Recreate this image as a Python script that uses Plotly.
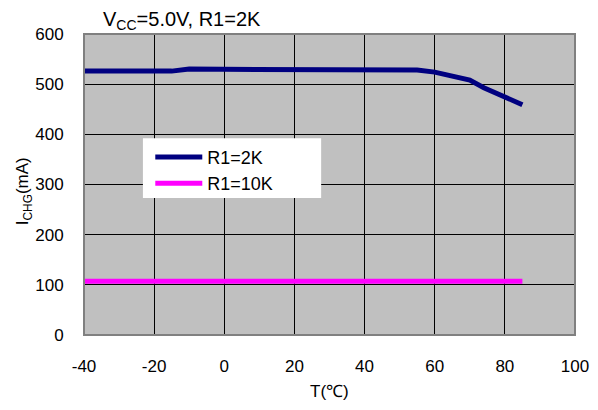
import plotly.graph_objects as go

# Data
temp_2k = [-40, -15, -10, 0, 10, 20, 30, 40, 45, 55, 60, 65, 70, 74, 78, 85]
ichg_2k = [526, 526, 530, 530, 530, 530, 530, 530, 528, 528, 524, 517, 508, 493, 481, 459]
temp_10k = [-40, -20, 0, 20, 40, 60, 85]
ichg_10k = [107, 107, 107, 107, 107, 107, 107]

x_ticks = [-40, -20, 0, 20, 40, 60, 80, 100]
x_labels = ["-40", "-20", "0", "20", "40", "60", "80", "100"]
y_ticks = [0, 100, 200, 300, 400, 500, 600]

FONT = "Liberation Sans, Arial, sans-serif"

fig = go.Figure()
fig.add_trace(go.Scatter(x=temp_2k, y=ichg_2k, mode="lines", name="R1=2K",
                         line=dict(color="#000080", width=5)))
fig.add_trace(go.Scatter(x=temp_10k, y=ichg_10k, mode="lines", name="R1=10K",
                         line=dict(color="#FF00FF", width=5)))

# page body has an 8px margin, so the figure is 8px smaller and offset
fig.update_layout(
    width=590, height=402,
    margin=dict(l=76, r=23, t=26, b=75),
    paper_bgcolor="white",
    plot_bgcolor="#C0C0C0",
    font=dict(family=FONT, size=17, color="black"),
    showlegend=True,
    legend=dict(x=0.135, y=0.652, xanchor="left", yanchor="top",
                bgcolor="rgba(0,0,0,0)", font=dict(size=18, family=FONT),
                itemwidth=47, tracegroupgap=0),
    xaxis=dict(range=[-40, 100], tickvals=x_ticks, ticktext=x_labels, showgrid=True,
               gridcolor="black", gridwidth=1, zeroline=False, showline=True,
               linecolor="#303030", linewidth=1, automargin=False,
               ticks="outside", ticklen=16, tickcolor="rgba(0,0,0,0)",
               tickfont=dict(size=17, family=FONT)),
    yaxis=dict(range=[0, 600], tickvals=y_ticks, showgrid=True, gridcolor="black",
               gridwidth=1, zeroline=False, showline=True, linecolor="#303030", linewidth=1,
               automargin=False,
               ticks="outside", ticklen=16, tickcolor="rgba(0,0,0,0)",
               tickfont=dict(size=17, family=FONT)),
    shapes=[
        dict(type="rect", xref="paper", yref="paper", x0=0, x1=1, y0=0, y1=1,
             line=dict(color="#808080", width=2), fillcolor="rgba(0,0,0,0)", layer="above"),
        dict(type="rect", xref="paper", yref="paper", x0=0.120, x1=0.483, y0=0.455, y1=0.654,
             line=dict(width=0), fillcolor="white", layer="above"),
    ],
    annotations=[
        dict(text="V<sub>CC</sub>=5.0V, R1=2K", xref="paper", yref="paper", x=0.035, y=1.045,
             xanchor="left", yanchor="middle", showarrow=False, font=dict(size=20, family=FONT)),
        dict(text="I<sub>CHG</sub>(mA)", xref="paper", yref="paper", x=-0.122, y=0.478,
             xanchor="center", yanchor="middle", textangle=-90, showarrow=False,
             font=dict(size=17, family=FONT)),
        dict(text="T(℃)", xref="paper", yref="paper", x=0.5, y=-0.189,
             xanchor="center", yanchor="middle", showarrow=False, font=dict(size=17, family=FONT)),
    ],
)

fig.write_html("out.html")
